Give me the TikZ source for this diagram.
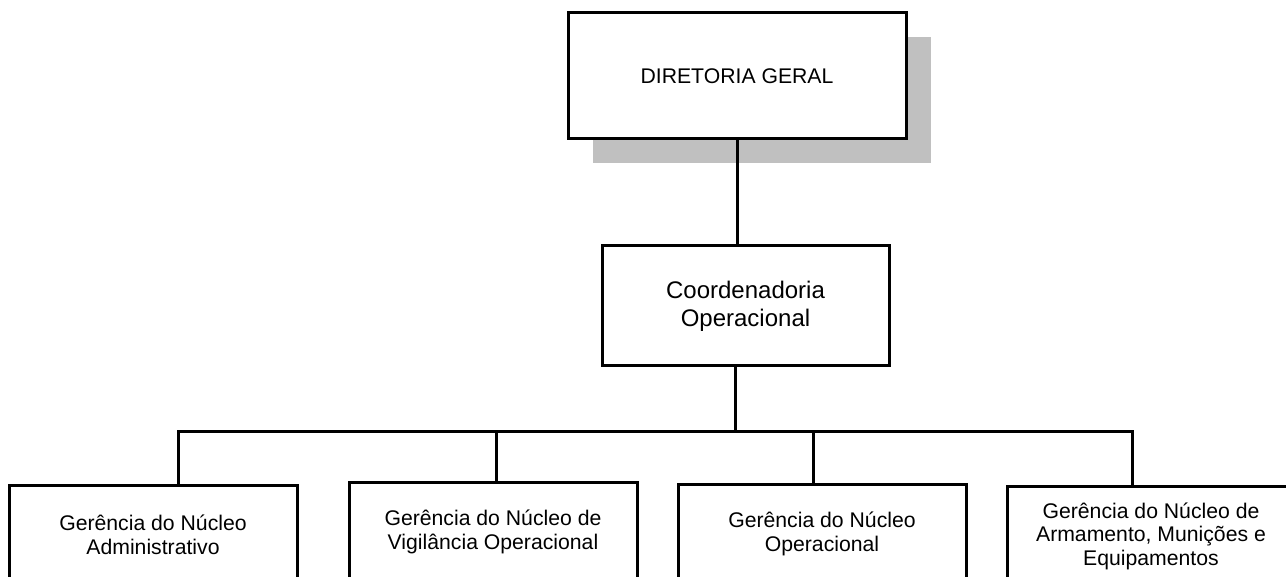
\documentclass[tikz,border=0pt]{standalone}
\usepackage{fontspec}
\setmainfont{Liberation Sans}
\usepackage{xcolor}
\usetikzlibrary{shadows}
\definecolor{shadowgray}{HTML}{C0C0C0}

\begin{document}
\begin{tikzpicture}[x=0.5pt, y=-0.5pt,
    unitbox/.style={draw, line width=1.5pt, fill=white, align=center, inner sep=0pt, outer sep=0pt},
    subbox/.style={unitbox, anchor=north, minimum width=144pt, minimum height=50pt, font=\fontsize{10.6}{11.8}\selectfont},
    link/.style={line width=1.5pt}]
    \useasboundingbox (0,0) rectangle (1286,577);
    \clip (0,0) rectangle (1286,577);

    % Top of the chart
    \node[unitbox, minimum width=169pt, minimum height=63pt,
        drop shadow={shadow xshift=12.5pt, shadow yshift=-12pt, fill=shadowgray, opacity=1},
        font=\fontsize{10.6}{12.7}\selectfont] (dir) at (737,76) {DIRETORIA GERAL};
    \node[unitbox, minimum width=143.5pt, minimum height=60pt,
        font=\fontsize{12}{14}\selectfont] (coord) at (745.5,306) {Coordenadoria\\Operacional};

    % Managements
    \node[subbox] (adm) at (153,485) {Gerência do Núcleo\\Administrativo};
    \node[subbox] (vig) at (493,482) {Gerência do Núcleo de\\Vigilância Operacional};
    \node[subbox] (ope) at (822,484) {Gerência do Núcleo\\Operacional};
    \node[subbox] (arm) at (1151,486) {Gerência do Núcleo de\\Armamento, Munições e\\Equipamentos};

    % Lines
    \coordinate (bus) at (735,431);
    \coordinate (b1) at (178,431);
    \coordinate (b2) at (496,431);
    \coordinate (b3) at (813,431);
    \coordinate (b4) at (1132,431);
    \draw[link] (dir) -- (dir |- coord.north);
    \draw[link] (coord.south -| bus) -- (bus);
    \draw[link] (b1 |- adm.north) -- (b1) -- (b4) -- (b4 |- arm.north);
    \draw[link] (b2) -- (b2 |- vig.north);
    \draw[link] (b3) -- (b3 |- ope.north);
\end{tikzpicture}
\end{document}
